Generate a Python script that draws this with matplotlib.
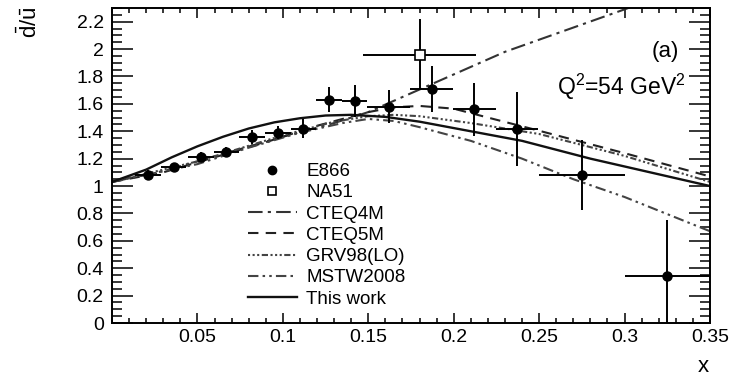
import numpy as np
import matplotlib
matplotlib.use('Agg')
import matplotlib.pyplot as plt
from matplotlib.lines import Line2D

plt.rcParams['font.family'] = ['Liberation Sans', 'DejaVu Sans']
plt.rcParams['mathtext.fontset'] = 'custom'
plt.rcParams['mathtext.rm'] = 'Liberation Sans'
plt.rcParams['mathtext.it'] = 'Liberation Sans'

# E866 data
e866_x = [0.021, 0.036, 0.052, 0.067, 0.082, 0.097, 0.112, 0.127, 0.142,
          0.162, 0.187, 0.212, 0.237, 0.275, 0.325]
e866_y = [1.08, 1.14, 1.215, 1.25, 1.36, 1.39, 1.42, 1.63, 1.62,
          1.58, 1.71, 1.56, 1.42, 1.08, 0.345]
e866_xerr = [0.0075] * 9 + [0.0125, 0.0125, 0.0125, 0.0125, 0.025, 0.025]
e866_yerr = [0.035, 0.03, 0.035, 0.035, 0.05, 0.05, 0.07, 0.09, 0.115,
             0.12, 0.17, 0.195, 0.27, 0.255, 0.41]

# NA51 data
na51_x = [0.18]
na51_y = [1.96]
na51_xerr = [0.033]
na51_yerr = [0.26]

# model curves
cteq4_x = [0.0, 0.03, 0.05, 0.075, 0.1, 0.13, 0.15, 0.19, 0.23, 0.30, 0.35]
cteq4_y = [1.03, 1.11, 1.18, 1.27, 1.36, 1.46, 1.54, 1.76, 1.98, 2.29, 2.52]

cteq5_x = [0.0, 0.03, 0.06, 0.09, 0.12, 0.15, 0.165, 0.18, 0.2, 0.22, 0.245, 0.30, 0.35]
cteq5_y = [1.03, 1.10, 1.21, 1.32, 1.44, 1.54, 1.575, 1.585, 1.565, 1.50, 1.42, 1.24, 1.07]

grv_x = [0.0, 0.05, 0.1, 0.13, 0.15, 0.165, 0.18, 0.21, 0.25, 0.30, 0.35]
grv_y = [1.03, 1.18, 1.37, 1.47, 1.51, 1.52, 1.51, 1.46, 1.38, 1.22, 1.03]

mstw_x = [0.0, 0.05, 0.08, 0.11, 0.135, 0.15, 0.165, 0.18, 0.21, 0.24, 0.27, 0.30, 0.35]
mstw_y = [1.03, 1.16, 1.28, 1.39, 1.46, 1.49, 1.475, 1.43, 1.33, 1.20, 1.05, 0.92, 0.67]

work_x = [0.0, 0.02, 0.035, 0.05, 0.065, 0.08, 0.095, 0.11, 0.125, 0.14,
          0.16, 0.18, 0.21, 0.24, 0.28, 0.35]
work_y = [1.03, 1.12, 1.21, 1.29, 1.36, 1.42, 1.465, 1.495, 1.515, 1.52,
          1.505, 1.47, 1.40, 1.33, 1.20, 1.00]

fig = plt.figure(figsize=(7.41, 3.77), dpi=100)
ax = fig.add_axes([112/741, 1-323/377, (710-112)/741, (323-8)/377])

lw = 1.5
ls_cteq4 = (0, (7, 2.5, 1.5, 2.5))
ls_cteq5 = (0, (5, 3.5))
ls_grv = (0, (1, 1.2, 1, 1.2, 1, 1.2, 3, 1.2))
ls_mstw = (0, (5, 2, 1.2, 2, 1.2, 2))

ax.plot(cteq4_x, cteq4_y, color='#333333', lw=lw, ls=ls_cteq4)
ax.plot(cteq5_x, cteq5_y, color='#222222', lw=lw, ls=ls_cteq5)
ax.plot(grv_x, grv_y, color='#444444', lw=lw, ls=ls_grv)
ax.plot(mstw_x, mstw_y, color='#444444', lw=lw, ls=ls_mstw)
ax.plot(work_x, work_y, color='#111111', lw=1.7, ls='-')

ax.errorbar(e866_x, e866_y, xerr=e866_xerr, yerr=e866_yerr, fmt='o',
            color='black', ms=6.5, elinewidth=1.4, capsize=0)
ax.errorbar(na51_x, na51_y, xerr=na51_xerr, yerr=na51_yerr, fmt='s',
            color='black', mfc='white', mew=1.2, ms=6.5, elinewidth=1.4,
            capsize=0, zorder=5)

ax.set_xlim(0, 0.35)
ax.set_ylim(0, 2.3)
ax.set_xticks(np.arange(0.05, 0.351, 0.05))
ax.set_xticklabels(['0.05', '0.1', '0.15', '0.2', '0.25', '0.3', '0.35'])
ax.set_xticks(np.arange(0.0, 0.351, 0.01), minor=True)
ax.set_yticks(np.arange(0, 2.21, 0.2))
ax.set_yticklabels(['0', '0.2', '0.4', '0.6', '0.8', '1', '1.2', '1.4',
                    '1.6', '1.8', '2', '2.2'])
ax.set_yticks(np.arange(0, 2.31, 0.05), minor=True)

for s in ax.spines.values():
    s.set_linewidth(1.4)

ax.tick_params(axis='both', which='both', direction='in', top=True, right=True,
               labelsize=14, width=1.1)
ax.tick_params(axis='x', which='major', length=7.2, pad=4)
ax.tick_params(axis='x', which='minor', length=3.6)
ax.tick_params(axis='y', which='major', length=15, pad=6)
ax.tick_params(axis='y', which='minor', length=7.5)

fig.text(30/741, 1-22/377, r'$\mathrm{\bar{d}/\bar{u}}$', rotation=90,
         ha='center', va='center', fontsize=16)
fig.text(703/741, 1-366/377, 'x', ha='center', va='center', fontsize=16)

ax.text(679/741, 1-52/377, '(a)', transform=fig.transFigure,
        ha='right', va='center', fontsize=16)
ax.text(686/741, 1-87/377, r'Q$^2$=54 GeV$^2$', transform=fig.transFigure,
        ha='right', va='center', fontsize=16.5)

handles = [
    Line2D([], [], ls='none', marker='o', color='black', ms=6),
    Line2D([], [], ls='none', marker='s', color='black', mfc='white', mew=1.2, ms=6),
    Line2D([], [], color='#333333', lw=lw, ls=ls_cteq4),
    Line2D([], [], color='#222222', lw=lw, ls=ls_cteq5),
    Line2D([], [], color='#444444', lw=lw, ls=ls_grv),
    Line2D([], [], color='#444444', lw=lw, ls=ls_mstw),
    Line2D([], [], color='#111111', lw=1.7, ls='-'),
]
labels = ['E866', 'NA51', 'CTEQ4M', 'CTEQ5M', 'GRV98(LO)', 'MSTW2008', 'This work']
ax.legend(handles, labels, loc='upper left', bbox_to_anchor=(248/741, 1-163/377),
          bbox_transform=fig.transFigure, frameon=False, fontsize=13.5,
          handlelength=2.6, handletextpad=0.5, labelspacing=0.22, borderpad=0,
          borderaxespad=0)

fig.savefig('out.png', dpi=100)
